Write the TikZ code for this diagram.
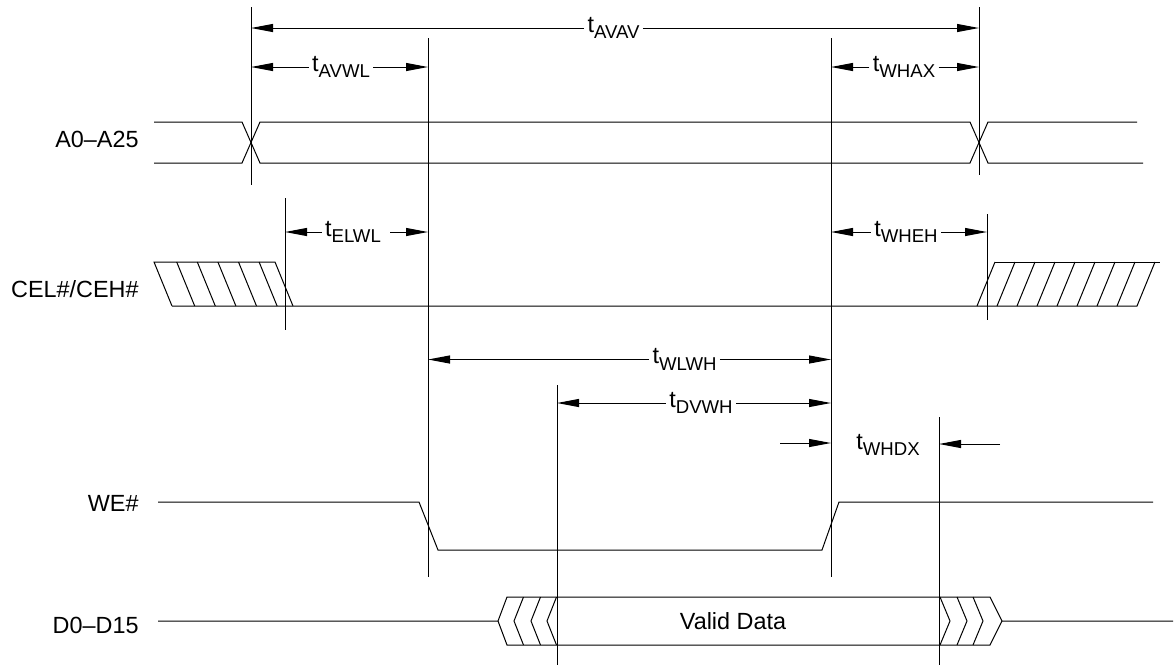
\documentclass[tikz,border=0pt]{standalone}
\usepackage{fontspec}
\setmainfont{Liberation Sans}
\usepackage{tikz}
\usetikzlibrary{arrows.meta,calc,positioning}
\newcommand{\tsub}[1]{t\raisebox{-3.3pt}{\fontsize{9.3pt}{10pt}\selectfont #1}}

\begin{document}
\begin{tikzpicture}[x=0.5pt,y=-0.5pt,every node/.style={font=\fontsize{11.7pt}{14pt}\selectfont}]
        \tikzstyle{sig}=[line width=0.5pt]
        \tikzstyle{dim}=[line width=0.5pt,-{Triangle[length=11pt,width=4pt]}]
        \tikzstyle{tlabel}=[inner sep=1.5pt]
        \tikzstyle{signame}=[anchor=east,inner sep=0pt]

        \useasboundingbox (0,0) rectangle (1174,666);

        % Signal names
        \node[signame] (nA) at (139,139) {A0--A25};
        \node[signame] (nCE) at (139,289) {CEL\#/CEH\#};
        \node[signame] (nWE) at (139,503) {WE\#};
        \node[signame] (nD) at (139,625) {D0--D15};

        % Timing reference lines
        \coordinate (av) at (251,7);   \draw[sig] (av) -- (251,185);
        \coordinate (wl) at (428,38);  \draw[sig] (wl) -- (428,577);
        \coordinate (wh) at (831,38);  \draw[sig] (wh) -- (831,577);
        \coordinate (ax) at (979,7);   \draw[sig] (ax) -- (979,175);
        \coordinate (el) at (285,198); \draw[sig] (el) -- (285,330);
        \coordinate (eh) at (987,214); \draw[sig] (eh) -- (987,320);
        \coordinate (dv) at (557,385); \draw[sig] (dv) -- (557,665);
        \coordinate (dx) at (939,417); \draw[sig] (dx) -- (939,665);

        % Address bus
        \draw[sig] (154,122) -- (242,122) -- (260,163) -- (970,163) -- (988,122) -- (1137,122);
        \draw[sig] (154,163) -- (242,163) -- (260,122) -- (970,122) -- (988,163) -- (1143,163);

        % Chip enable
        \draw[sig] (172,306) -- (154,262) -- (275,262) -- (293,306);
        \draw[sig] (172,306) -- (1137,306) -- (1155,262);
        \draw[sig] (995,262) -- (1160,262);
        \foreach \x in {176.7,197.3,217.9,238.5,259.1}
            \draw[sig] (\x,262) -- ++(18,44);
        \foreach \x in {977,997,...,1117}
            \draw[sig] (\x,306) -- ++(18,-44);

        % Write enable
        \draw[sig] (158,502) -- (419,502) -- (438,550) -- (822,550) -- (839,502) -- (1153,502);

        % Data bus
        \draw[sig] (158,621) -- (498,621) -- (507,597) -- (990,597) -- (1002,621) -- (1173,621);
        \draw[sig] (498,621) -- (507,645) -- (990,645) -- (1002,621);
        \foreach \x in {514,531,547}
            \draw[sig] (\x+9.5,597) -- (\x,621) -- (\x+9.5,645);
        \foreach \x in {940,957,973}
            \draw[sig] (\x,597) -- (\x+10,621) -- (\x,645);
        \node (valid) at (733,621) {Valid Data};

        % Timing parameters
        \node[tlabel] (avav) at (613.5,28) {\tsub{AVAV}};
        \draw[dim] (avav.west) -- (avav.west -| av);
        \draw[dim] (avav.east) -- (avav.east -| ax);

        \node[tlabel] (avwl) at (341,67) {\tsub{AVWL}};
        \draw[dim] (avwl.west) -- (avwl.west -| av);
        \draw[dim] (avwl.east) -- (avwl.east -| wl);

        \node[tlabel] (whax) at (904,67) {\tsub{WHAX}};
        \draw[dim] (whax.west) -- (whax.west -| wh);
        \draw[dim] (whax.east) -- (whax.east -| ax);

        \node[tlabel] (elwl) at (353,232) {\tsub{ELWL}};
        \draw[dim] (elwl.west) -- (elwl.west -| el);
        \draw[dim] ([xshift=3pt]elwl.east) -- (elwl.east -| wl);

        \node[tlabel] (wheh) at (906,232) {\tsub{WHEH}};
        \draw[dim] (wheh.west) -- (wheh.west -| wh);
        \draw[dim] (wheh.east) -- (wheh.east -| eh);

        \node[tlabel] (wlwh) at (684.5,359.5) {\tsub{WLWH}};
        \draw[dim] (wlwh.west) -- (wlwh.west -| wl);
        \draw[dim] (wlwh.east) -- (wlwh.east -| wh);

        \node[tlabel] (dvwh) at (701,403) {\tsub{DVWH}};
        \draw[dim] (dvwh.west) -- (dvwh.west -| dv);
        \draw[dim] (dvwh.east) -- (dvwh.east -| wh);

        \node[tlabel] (whdx) at (888,445) {\tsub{WHDX}};
        \coordinate (whdxL) at (780,443);
        \coordinate (whdxR) at (1000,444);
        \draw[dim] (whdxL) -- (whdxL -| wh);
        \draw[dim] (whdxR) -- (whdxR -| dx);
    \end{tikzpicture}
\end{document}
